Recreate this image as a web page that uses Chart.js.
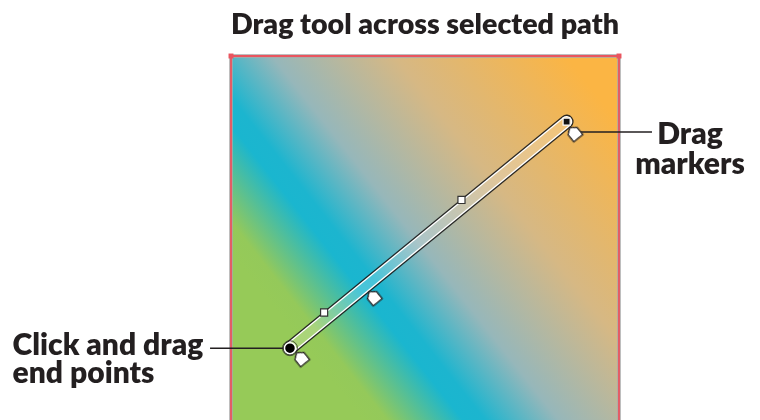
<!DOCTYPE html>
<html>
<head>
<meta charset="utf-8">
<script src="https://cdn.jsdelivr.net/npm/chart.js@4.4.0/dist/chart.umd.min.js"></script>
<style>
  html, body { margin: 0; padding: 0; background: #fff; }
  #wrap { width: 760px; height: 420px; }
</style>
</head>
<body>
<div id="wrap"><canvas id="chart"></canvas></div>
<script>
const titleText = 'Drag tool across selected path';

// the square runs 0..100 on both axes, its lower part is cut off by the picture
const xRange = [0, 100];
const yRange = [6.2, 100];

const frameX = [0, 0, 100, 100, 0];
const frameY = [0, 100, 100, 0, 0];
const handleX = [0, 100];
const handleY = [100, 100];

const toolX = [15.2, 86.5];
const toolY = [24.7, 83.1];
const anchorX = [24.0, 59.4];
const anchorY = [33.9, 62.9];
const markerX = [18.0, 36.7, 88.4];
const markerY = [22.2, 37.9, 80.2];

const leftLeaderX = [-5.4, 15.2];
const leftLeaderY = [24.7, 24.7];
const rightLeaderX = [89.4, 108.5];
const rightLeaderY = [80.4, 80.4];

const leftLabel = ['Click and drag', 'end points'];
const leftLabelX = -56.3;
const leftLabelY = [22.9, 15.7];
const rightLabel = ['Drag', 'markers'];
const rightLabelX = 118.3;
const rightLabelY = [77.4, 69.5];

const gradFrom = [33.9, 6.2];
const gradTo = [111.9, 67.6];
const gradStops = [0, 0.05, 0.205, 0.25, 0.4, 0.65, 1];
const gradColors = ['#96ca58', '#94c95a', '#1ab6cf', '#1cb5cf', '#96b7ba', '#d6b884', '#fbb544'];

const ink = '#231f20';
const fontName = 'Lato';

function pts(xs, ys) {
  return xs.map((x, i) => ({ x: x, y: ys[i] }));
}

// blend a hex colour towards white
function lighten(hex, t) {
  const n = parseInt(hex.slice(1), 16);
  const r = (n >> 16) & 255, g = (n >> 8) & 255, b = n & 255;
  const m = v => Math.round(v + (255 - v) * t);
  return 'rgb(' + m(r) + ',' + m(g) + ',' + m(b) + ')';
}

function makeGradient(chart, t) {
  const x = chart.scales.x, y = chart.scales.y;
  const g = chart.ctx.createLinearGradient(
    x.getPixelForValue(gradFrom[0]), y.getPixelForValue(gradFrom[1]),
    x.getPixelForValue(gradTo[0]), y.getPixelForValue(gradTo[1]));
  gradStops.forEach((s, i) => g.addColorStop(s, lighten(gradColors[i], t)));
  return g;
}

// little white tag used for the drag markers
const markerImg = document.createElement('canvas');
markerImg.width = 14;
markerImg.height = 16;
(function () {
  const c = markerImg.getContext('2d');
  c.beginPath();
  c.moveTo(7, 1.2);
  c.lineTo(12.8, 5.8);
  c.lineTo(12.8, 14.8);
  c.lineTo(1.2, 14.8);
  c.lineTo(1.2, 5.8);
  c.closePath();
  c.fillStyle = '#fff';
  c.fill();
  c.lineWidth = 1.3;
  c.lineJoin = 'miter';
  c.strokeStyle = ink;
  c.stroke();
})();

const squareFill = {
  id: 'squareFill',
  beforeDatasetsDraw(chart) {
    const { ctx } = chart;
    const x = chart.scales.x, y = chart.scales.y;
    const l = x.getPixelForValue(0), r = x.getPixelForValue(100);
    const t = y.getPixelForValue(100), b = y.getPixelForValue(0);
    ctx.save();
    ctx.fillStyle = makeGradient(chart, 0);
    ctx.fillRect(l, t, r - l, b - t);
    ctx.restore();
  }
};

const sideLabels = {
  id: 'sideLabels',
  afterDatasetsDraw(chart) {
    const { ctx } = chart;
    const x = chart.scales.x, y = chart.scales.y;
    ctx.save();
    ctx.fillStyle = ink;
    ctx.font = '800 30px ' + fontName;
    ctx.textBaseline = 'alphabetic';
    ctx.textAlign = 'left';
    leftLabel.forEach((s, i) => ctx.fillText(s, x.getPixelForValue(leftLabelX), y.getPixelForValue(leftLabelY[i])));
    ctx.textAlign = 'center';
    rightLabel.forEach((s, i) => ctx.fillText(s, x.getPixelForValue(rightLabelX), y.getPixelForValue(rightLabelY[i])));
    ctx.restore();
  }
};

const lineSet = (label, data, color, width, order, extra) => Object.assign({
  label: label,
  data: data,
  showLine: true,
  borderColor: color,
  borderWidth: width,
  pointRadius: 0,
  fill: false,
  clip: false,
  order: order
}, extra || {});

const pointSet = (label, data, style, radius, bg, border, bw, order, extra) => Object.assign({
  label: label,
  data: data,
  showLine: false,
  pointStyle: style,
  pointRadius: radius,
  pointBackgroundColor: bg,
  pointBorderColor: border,
  pointBorderWidth: bw,
  clip: false,
  order: order
}, extra || {});

new Chart(document.getElementById('chart'), {
  type: 'scatter',
  data: {
    datasets: [
      lineSet('frame edge', pts(frameX, frameY), '#a9a9a9', 3.5, 20),
      lineSet('frame', pts(frameX, frameY), '#e9555f', 1.8, 19),
      pointSet('frame handles', pts(handleX, handleY), 'rect', 3.5, '#e9555f', '#e9555f', 0, 18),
      lineSet('leader left', pts(leftLeaderX, leftLeaderY), ink, 1.4, 17),
      lineSet('leader right', pts(rightLeaderX, rightLeaderY), ink, 1.4, 17),
      lineSet('tool outline', pts(toolX, toolY), 'rgba(25,25,25,0.9)', 14, 16, { borderCapStyle: 'round' }),
      lineSet('tool rim', pts(toolX, toolY), '#ffffff', 11.4, 15, { borderCapStyle: 'round' }),
      lineSet('tool body', pts(toolX, toolY),
        c => c.chart.chartArea ? makeGradient(c.chart, 0.2) : '#e0e0e0', 8.8, 14, { borderCapStyle: 'round' }),
      pointSet('anchors', pts(anchorX, anchorY), 'rect', 5, '#ffffff', '#333333', 1.2, 10),
      pointSet('markers', pts(markerX, markerY), markerImg, 8, '#fff', ink, 1, 9, { rotation: -39 }),
      pointSet('end ring', pts([toolX[0]], [toolY[0]]), 'circle', 7.5, 'rgba(0,0,0,0)', 'rgba(40,40,40,0.75)', 1, 8),
      pointSet('end point', pts([toolX[0]], [toolY[0]]), 'circle', 5.5, '#000000', '#ffffff', 1.5, 7),
      pointSet('end square', pts([toolX[1]], [toolY[1]]), 'rect', 5, '#111111', '#ffffff', 1.2, 7)
    ]
  },
  options: {
    responsive: true,
    maintainAspectRatio: false,
    animation: false,
    events: [],
    layout: { autoPadding: false, padding: { left: 231, right: 141, top: 0, bottom: 0 } },
    scales: {
      x: { type: 'linear', min: xRange[0], max: xRange[1], display: false },
      y: { type: 'linear', min: yRange[0], max: yRange[1], display: false }
    },
    plugins: {
      legend: { display: false },
      tooltip: { enabled: false },
      title: {
        display: true,
        text: titleText,
        color: ink,
        font: { family: fontName, size: 29, weight: '800', lineHeight: 1.2 },
        padding: { top: 7, bottom: 14.2 }
      }
    }
  },
  plugins: [squareFill, sideLabels]
});
</script>
</body>
</html>
